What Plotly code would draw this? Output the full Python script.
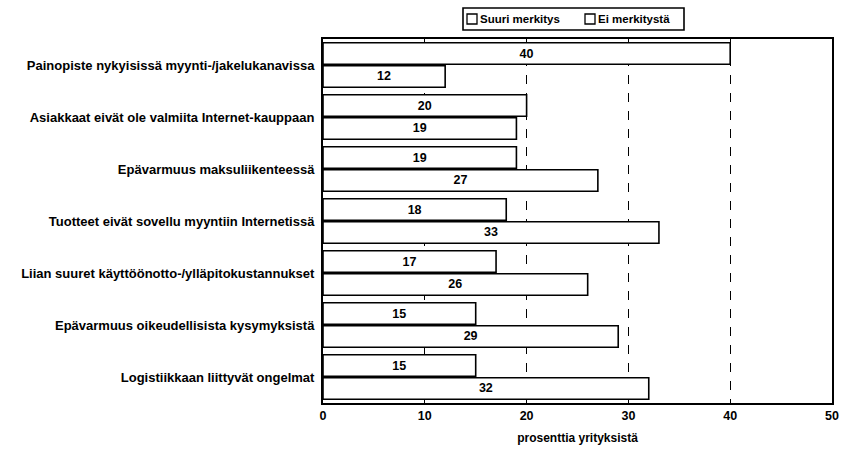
import plotly.graph_objects as go

categories = [
    "Painopiste nykyisissä myynti-/jakelukanavissa",
    "Asiakkaat eivät ole valmiita Internet-kauppaan",
    "Epävarmuus maksuliikenteessä",
    "Tuotteet eivät sovellu myyntiin Internetissä",
    "Liian suuret käyttöönotto-/ylläpitokustannukset",
    "Epävarmuus oikeudellisista kysymyksistä",
    "Logistiikkaan liittyvät ongelmat",
]
suuri_merkitys = [40, 20, 19, 18, 17, 15, 15]
ei_merkitysta = [12, 19, 27, 33, 26, 29, 32]
series_names = ["Suuri merkitys", "Ei merkitystä"]
x_ticks = [0, 10, 20, 30, 40, 50]

FONT = "Liberation Sans, Arial, sans-serif"
W, H = 842, 451
ML, MR, MT, MB = 323, 10, 39, 48
PW, PH = W - ML - MR, H - MT - MB


def px_x(p):
    return (p - ML) / PW


def px_y(p):
    return (H - MB - p) / PH


fig = go.Figure()
for name, vals in zip(series_names, [suuri_merkitys, ei_merkitysta]):
    fig.add_trace(go.Bar(
        name=name,
        y=categories,
        x=vals,
        orientation="h",
        marker=dict(color="white", line=dict(color="black", width=1.6)),
        text=[str(v) for v in vals],
        textposition="inside",
        insidetextanchor="middle",
        textfont=dict(family=FONT, size=12.5, color="black", weight="bold"),
        textangle=0,
        showlegend=False,
    ))

# Boxed legend above the plot: small open squares right next to the labels
shapes = [dict(type="rect", xref="paper", yref="paper",
               x0=px_x(463), x1=px_x(684), y0=px_y(30), y1=px_y(8),
               line=dict(color="black", width=1.6), fillcolor="white")]
annotations = []
for sq_left, name in [(467, series_names[0]), (585, series_names[1])]:
    shapes.append(dict(type="rect", xref="paper", yref="paper",
                       x0=px_x(sq_left), x1=px_x(sq_left + 10),
                       y0=px_y(24), y1=px_y(14),
                       line=dict(color="black", width=1.3), fillcolor="white"))
    annotations.append(dict(xref="paper", yref="paper",
                            x=px_x(sq_left + 11), y=px_y(19),
                            xanchor="left", yanchor="middle",
                            text=name, showarrow=False,
                            font=dict(family=FONT, size=11.5, color="black", weight="bold")))

fig.update_layout(
    width=W,
    height=H,
    margin=dict(l=ML, r=MR, t=MT, b=MB, autoexpand=False),
    paper_bgcolor="white",
    plot_bgcolor="white",
    barmode="group",
    bargap=0.12,
    bargroupgap=0.06,
    font=dict(family=FONT, color="black"),
    showlegend=False,
    shapes=shapes,
    annotations=annotations,
    uniformtext=dict(minsize=11, mode="show"),
)

fig.update_xaxes(
    range=[0, 50],
    tickvals=x_ticks,
    ticktext=[str(t) for t in x_ticks],
    tickfont=dict(family=FONT, size=12.5, color="black", weight="bold"),
    showgrid=True,
    gridcolor="black",
    griddash="dash",
    gridwidth=1.2,
    showline=True, linecolor="black", linewidth=2, mirror=True,
    ticks="", zeroline=False, automargin=False,
    title=dict(text="prosenttia yrityksistä",
               font=dict(family=FONT, size=12, color="black", weight="bold"),
               standoff=12),
)
fig.update_yaxes(
    autorange="reversed",
    tickfont=dict(family=FONT, size=13, color="black", weight="bold"),
    showline=True, linecolor="black", linewidth=2, mirror=True,
    ticks="", ticklabelstandoff=4, automargin=False,
    showgrid=False,
)

fig.write_html("out.html")
